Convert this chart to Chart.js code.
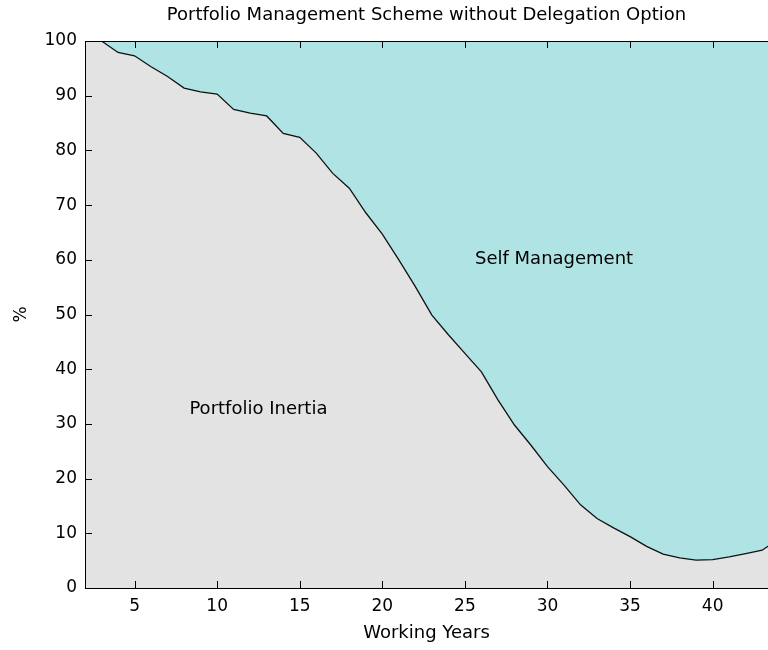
<!DOCTYPE html>
<html>
<head>
<meta charset="utf-8">
<script src="https://cdn.jsdelivr.net/npm/chart.js@4"></script>
<style>
  html, body { margin: 0; padding: 0; background: #fff; }
</style>
</head>
<body>
<canvas id="myChart" width="768" height="650"></canvas>
<script>
const years = [2, 3, 4, 5, 6, 7, 8, 9, 10, 11, 12, 13, 14, 15, 16, 17, 18, 19, 20, 21, 22, 23,
  24, 25, 26, 27, 28, 29, 30, 31, 32, 33, 34, 35, 36, 37, 38, 39, 40, 41, 42, 43, 44];
const inertia = [100, 100, 97.9, 97.3, 95.3, 93.5, 91.4, 90.7, 90.3, 87.5, 86.8, 86.3, 83.1, 82.4,
  79.5, 75.8, 73.1, 68.6, 64.7, 60.0, 55.1, 49.9, 46.3, 42.9, 39.5, 34.4, 29.8, 26.1, 22.2,
  18.8, 15.2, 12.7, 11.0, 9.4, 7.6, 6.2, 5.5, 5.1, 5.2, 5.7, 6.3, 6.9, 9.0];
const xTicks = [5, 10, 15, 20, 25, 30, 35, 40];
const yTicks = [0, 10, 20, 30, 40, 50, 60, 70, 80, 90, 100];
const areaLabels = ['Self Management', 'Portfolio Inertia'];
const areaLabelX = [30.4, 12.5];
const areaLabelY = [60, 32.7];
const chartTitle = 'Portfolio Management Scheme without Delegation Option';

const FONT = 'DejaVu Sans';
const points = years.map((x, i) => ({ x: x, y: inertia[i] }));

// frame with inward ticks, title and area labels, matlab style
const axesBox = {
  id: 'axesBox',
  afterDatasetsDraw(chart) {
    const { ctx, chartArea: a, scales: { x, y } } = chart;
    ctx.save();
    ctx.strokeStyle = '#000';
    ctx.lineWidth = 1;
    ctx.strokeRect(Math.round(a.left) + 0.5, Math.round(a.top) + 0.5,
      Math.round(a.right - a.left) + 2, Math.round(a.bottom - a.top));
    ctx.beginPath();
    xTicks.forEach(v => {
      const px = Math.round(x.getPixelForValue(v)) + 0.5;
      ctx.moveTo(px, a.bottom); ctx.lineTo(px, a.bottom - 7);
      ctx.moveTo(px, a.top); ctx.lineTo(px, a.top + 7);
    });
    yTicks.forEach(v => {
      const py = Math.round(y.getPixelForValue(v)) + 0.5;
      ctx.moveTo(a.left, py); ctx.lineTo(a.left + 7, py);
    });
    ctx.stroke();

    ctx.fillStyle = '#000';
    ctx.font = '18px "' + FONT + '"';
    ctx.textAlign = 'center';
    ctx.textBaseline = 'middle';
    areaLabels.forEach((t, i) => {
      ctx.fillText(t, x.getPixelForValue(areaLabelX[i]), y.getPixelForValue(areaLabelY[i]));
    });
    ctx.fillText(chartTitle, (a.left + a.right) / 2, 15);
    ctx.restore();
  }
};

const ctx = document.getElementById('myChart').getContext('2d');
const chart = new Chart(ctx, {
  type: 'line',
  data: {
    datasets: [
      {
        label: 'Portfolio Inertia',
        data: points,
        borderColor: '#111',
        borderWidth: 1.3,
        backgroundColor: '#e3e3e3',
        fill: 'origin',
        pointRadius: 0,
        tension: 0
      },
      {
        label: 'Self Management',
        data: points,
        borderWidth: 0,
        borderColor: 'rgba(0,0,0,0)',
        fill: { target: { value: 100 }, above: '#b0e4e4', below: '#b0e4e4' },
        pointRadius: 0,
        tension: 0
      }
    ]
  },
  options: {
    responsive: false,
    animation: false,
    layout: { padding: { top: 41, right: 0, left: 0, bottom: 0 } },
    plugins: {
      legend: { display: false },
      tooltip: { enabled: false }
    },
    scales: {
      x: {
        type: 'linear',
        min: 2,
        max: 43.35,
        grid: { display: false, drawTicks: false },
        border: { display: false },
        afterBuildTicks: s => { s.ticks = xTicks.map(v => ({ value: v })); },
        afterFit: s => { s.height = 62; },
        ticks: { color: '#000', padding: 8, font: { family: FONT, size: 17 } },
        title: {
          display: true,
          text: 'Working Years',
          color: '#000',
          font: { family: FONT, size: 18 },
          padding: { top: 0, bottom: 6 }
        }
      },
      y: {
        min: 0,
        max: 100,
        grid: { display: false, drawTicks: false },
        border: { display: false },
        afterBuildTicks: s => { s.ticks = yTicks.map(v => ({ value: v })); },
        afterFit: s => { s.width = 85; },
        ticks: { color: '#000', padding: 8, font: { family: FONT, size: 17 } },
        title: {
          display: true,
          text: '%',
          color: '#000',
          font: { family: FONT, size: 17 },
          padding: { top: 11, bottom: 0 }
        }
      }
    }
  },
  plugins: [axesBox]
});
</script>
</body>
</html>
